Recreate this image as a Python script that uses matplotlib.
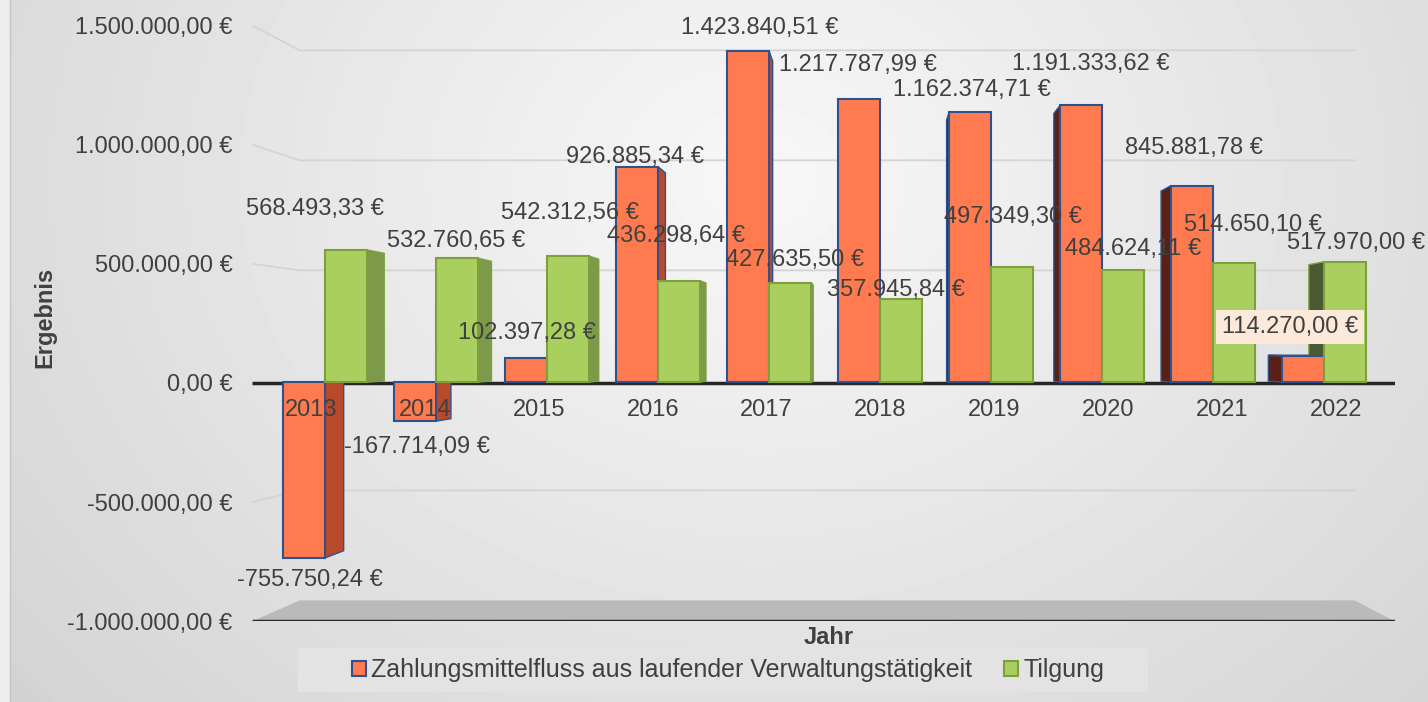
import matplotlib

matplotlib.use("Agg")
import matplotlib.pyplot as plt
import numpy as np
from matplotlib.patches import Polygon, Rectangle

years = ["2013", "2014", "2015", "2016", "2017", "2018", "2019", "2020", "2021", "2022"]
cashflow = [-755750.24, -167714.09, 102397.28, 926885.34, 1423840.51,
            1217787.99, 1162374.71, 1191333.62, 845881.78, 114270.00]
tilgung = [568493.33, 532760.65, 542312.56, 436298.64, 427635.50,
           357945.84, 497349.30, 484624.11, 514650.10, 517970.00]
y_ticks = [-1000000, -500000, 0, 500000, 1000000, 1500000]
series_names = ["Zahlungsmittelfluss aus laufender Verwaltungstätigkeit", "Tilgung"]

# where each data label sits relative to its bar top (pixels)
cash_offsets = [(20, -17), (13, -24), (10, 26), (4, 5), (15, 16),
                (-1, 28), (-1, 16), (4, 35), (-6, 33), (-24, 29)]
tilg_offsets = [(-18, 38), (10, 15), (10, 41), (2, 43), (7, 21),
                (-6, 8), (-3, 47), (3, 18), (10, 35), (-1, 17)]

W, H = 1428, 702
TXT = "#404040"
FS = 17

# simple perspective: vanishing point and depth factors of the 3d look
VX, VY = 4.92, 143000
F_FRONT, F_BACK, F_WALL = 0.025, 0.058, 0.077
BAR_W = 0.378
XL, XR = -0.52, 9.52

plt.rcParams["font.family"] = ["Liberation Sans", "DejaVu Sans"]


def proj(x, y, f):
    return x + (VX - x) * f, y + (VY - y) * f


def euro(v):
    s = f"{v:,.2f}".replace(",", "X").replace(".", ",").replace("X", ".")
    return s + " €"


fig = plt.figure(figsize=(W / 100, H / 100), dpi=100)

# grey gradient backdrop
bg = fig.add_axes([0, 0, 1, 1])
yy, xx = np.mgrid[0:H, 0:W]
d = np.sqrt(((xx - 760) / 760) ** 2 + ((yy - 180) / 620) ** 2)
shade = 0.97 - 0.11 * d
shade[:, :10] = 0.93
bg.imshow(shade, cmap="gray", vmin=0, vmax=1, extent=(0, W, H, 0), aspect="auto")
bg.plot([10, 10], [0, H], color="#c4c4c4", lw=1)
bg.add_patch(Rectangle((298, 648), 850, 44, fc="#e3e3e3", ec="none"))
bg.set_xlim(0, W)
bg.set_ylim(H, 0)
bg.axis("off")

ax = fig.add_axes([252 / W, (H - 621.4) / H, 1143 / W, 596 / H])
ax.patch.set_alpha(0)
ax.set_xlim(XL, XR)
ax.set_ylim(-1000000, 1500000)
for s in ax.spines.values():
    s.set_visible(False)
ax.set_xticks([])
ax.set_yticks(y_ticks)
ax.set_yticklabels([euro(t) for t in y_ticks])
ax.tick_params(axis="y", length=0, pad=14, labelsize=FS, labelcolor=TXT)

# back wall gridlines and side wall diagonals
for t in y_ticks[1:]:
    if t == 0:
        continue
    bx0, by = proj(XL, t, F_WALL)
    bx1, _ = proj(XR, t, F_WALL)
    ax.plot([XL, bx0, bx1], [t, by, by], color="#d4d4d4", lw=1.3, zorder=1)

# floor slab at the bottom
fl = [proj(XL, -1000000, 0), proj(XR, -1000000, 0),
      proj(XR, -1000000, F_WALL), proj(XL, -1000000, F_WALL)]
ax.add_patch(Polygon(fl, closed=True, fc="#bababa", ec="none", zorder=1))
ax.plot([XL, XR], [-1000000, -1000000], color="#2a2a2a", lw=2.5, zorder=2,
        solid_capstyle="butt")

# zero line
ax.plot([XL, XR], [0, 0], color="#262626", lw=2.5, zorder=2, solid_capstyle="butt")

styles = [
    dict(front="#ff7b4f", edge="#2f528f", right="#b84a2b", left="#5a2016", top="#ff9c78"),
    dict(front="#a9d05f", edge="#7f9f3f", right="#7d9a4a", left="#4a5a33", top="#c4e08a"),
]

for k, values in enumerate([cashflow, tilgung]):
    st = styles[k]
    for i, v in enumerate(values):
        x0 = i - BAR_W if k == 0 else i
        x1 = x0 + BAR_W
        fx, fy = proj(x0, 0, F_FRONT)
        ax.bar(fx, v * (1 - F_FRONT), width=BAR_W * (1 - F_FRONT), bottom=fy,
               align="edge", color=st["front"], edgecolor=st["edge"], lw=1.5, zorder=4)
        if (x0 + x1) / 2 < VX:
            xs, col = x1, st["right"]
        else:
            xs, col = x0, st["left"]
        side = [proj(xs, 0, F_FRONT), proj(xs, v, F_FRONT),
                proj(xs, v, F_BACK), proj(xs, 0, F_BACK)]
        ax.add_patch(Polygon(side, closed=True, fc=col, ec=st["edge"], lw=1, zorder=3))
        if 0 < v < VY:
            top = [proj(x0, v, F_FRONT), proj(x1, v, F_FRONT),
                   proj(x1, v, F_BACK), proj(x0, v, F_BACK)]
            ax.add_patch(Polygon(top, closed=True, fc=st["top"], ec=st["edge"], lw=1, zorder=3))

for i, v in enumerate(cashflow):
    box = None
    if i == len(cashflow) - 1:
        box = dict(boxstyle="square,pad=0.25", fc="#fde9d9", ec="none")
    ax.annotate(euro(v), (i - BAR_W / 2, v), xytext=cash_offsets[i],
                textcoords="offset pixels", ha="center", va="center",
                fontsize=FS, color=TXT, zorder=6, bbox=box, annotation_clip=False)
for i, v in enumerate(tilgung):
    ax.annotate(euro(v), (i + BAR_W / 2, v), xytext=tilg_offsets[i],
                textcoords="offset pixels", ha="center", va="center",
                fontsize=FS, color=TXT, zorder=6, annotation_clip=False)

for i, yr in enumerate(years):
    ax.annotate(yr, (i, 0), xytext=(0, -27), textcoords="offset pixels",
                ha="center", va="center", fontsize=FS, color=TXT, zorder=7)

fig.text(45 / W, 1 - 317 / H, "Ergebnis", rotation=90, ha="center", va="center",
         fontsize=FS, fontweight="bold", color=TXT)
fig.text(829 / W, 1 - 637 / H, "Jahr", ha="center", va="center",
         fontsize=FS, fontweight="bold", color=TXT)

handles = [Rectangle((0, 0), 1, 1, fc=styles[0]["front"], ec=styles[0]["edge"], lw=1.5),
           Rectangle((0, 0), 1, 1, fc=styles[1]["front"], ec=styles[1]["edge"], lw=1.5)]
fig.legend(handles, series_names, loc="center", bbox_to_anchor=(728 / W, 1 - 670 / H),
           ncol=2, frameon=False, handlelength=0.55, handleheight=0.55,
           handletextpad=0.2, columnspacing=1.3, fontsize=18, labelcolor=TXT)

fig.savefig("out.png", dpi=100)
